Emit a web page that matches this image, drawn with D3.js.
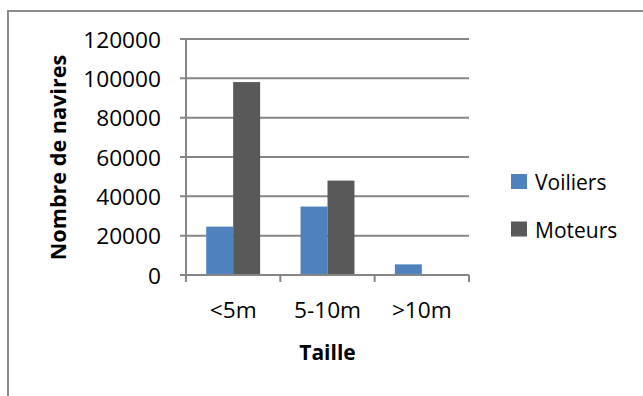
<!DOCTYPE html>
<html><head><meta charset="utf-8">
<script src="https://cdn.jsdelivr.net/npm/d3@7"></script>
<style>body{margin:0;background:#fff;} svg{display:block;} text{font-family:"Open Sans",Lato,sans-serif;fill:#000;}</style>
</head><body>
<svg id="c" width="643" height="396"></svg>
<script>
const categories = ["<5m", "5-10m", ">10m"];
const seriesNames = ["Voiliers", "Moteurs"];
const voiliers = [24600, 34800, 5400];
const moteurs = [98100, 48000, 0];
const yTicks = [0, 20000, 40000, 60000, 80000, 100000, 120000];
const colors = ["#4F81BD", "#595959"];

const svg = d3.select("#c");
const SX = 1.08;
const grid = "#868686";
const m = {l:186, r:469, t:39, b:275};

// outer border
svg.append("path").attr("d","M8,400 V11 H650").attr("fill","none").attr("stroke","#8c8c8c").attr("stroke-width",2);

const x = d3.scaleBand().domain(categories).range([m.l, m.r]);
const y = d3.scaleLinear().domain([0,120000]).range([m.b, m.t]);
const bw = x.bandwidth()/3.5;
const x1 = d3.scaleBand().domain(seriesNames).range([0, 2*bw]).padding(0);

// gridlines
svg.append("g").selectAll("line").data(yTicks).join("line")
  .attr("x1", m.l-6).attr("x2", m.r).attr("y1", d=>y(d)).attr("y2", d=>y(d))
  .attr("stroke", grid).attr("stroke-width", 2);

// bars
const series = [voiliers, moteurs];
const g = svg.append("g");
categories.forEach((c,i)=>{
  seriesNames.forEach((s,j)=>{
    const v = series[j][i];
    if (v<=0) return;
    g.append("rect")
      .attr("x", x(c) + 0.75*bw + x1(s))
      .attr("y", y(v)).attr("width", x1.bandwidth()).attr("height", y(0)-y(v))
      .attr("fill", colors[j]);
  });
});

// axes lines
svg.append("line").attr("x1",m.l).attr("x2",m.l).attr("y1",m.t).attr("y2",m.b).attr("stroke",grid).attr("stroke-width",2);
svg.append("line").attr("x1",m.l-6).attr("x2",m.r).attr("y1",m.b).attr("y2",m.b).attr("stroke",grid).attr("stroke-width",2);
const xTickPos = categories.map(c=>x(c)).concat([m.r]);
svg.append("g").selectAll("line").data(xTickPos).join("line")
  .attr("x1",d=>d).attr("x2",d=>d).attr("y1",m.b).attr("y2",m.b+7).attr("stroke",grid).attr("stroke-width",2);

function txt(xp, yp, s, opts={}) {
  const t = svg.append("g").attr("transform", `translate(${xp},${yp}) ${opts.rot?`rotate(${opts.rot})`:''} scale(${opts.sx||SX},1)`)
    .append("text").text(s)
    .attr("font-size", opts.size||21)
    .attr("text-anchor", opts.anchor||"start")
    .attr("font-weight", opts.bold?"bold":"normal");
  return t;
}

// y tick labels
yTicks.forEach(d=> txt(161, y(d)+8.5, d3.format("d")(d), {anchor:"end"}));
// x tick labels
categories.forEach(c=> txt(x(c)+x.bandwidth()/2, 318, c, {anchor:"middle"}));
// axis titles
txt((m.l+m.r)/2, 360, "Taille", {anchor:"middle", bold:true, sx:1.0});
txt(66, 157.5, "Nombre de navires", {anchor:"middle", bold:true, rot:-90, sx:1.03});

// legend
seriesNames.forEach((s,i)=>{
  const yy = 174 + i*47.5;
  svg.append("rect").attr("x",511).attr("y",yy).attr("width",16).attr("height",15).attr("fill",colors[i]);
  txt(535, yy+16, s, {sx:1.0});
});
</script>
</body></html>
